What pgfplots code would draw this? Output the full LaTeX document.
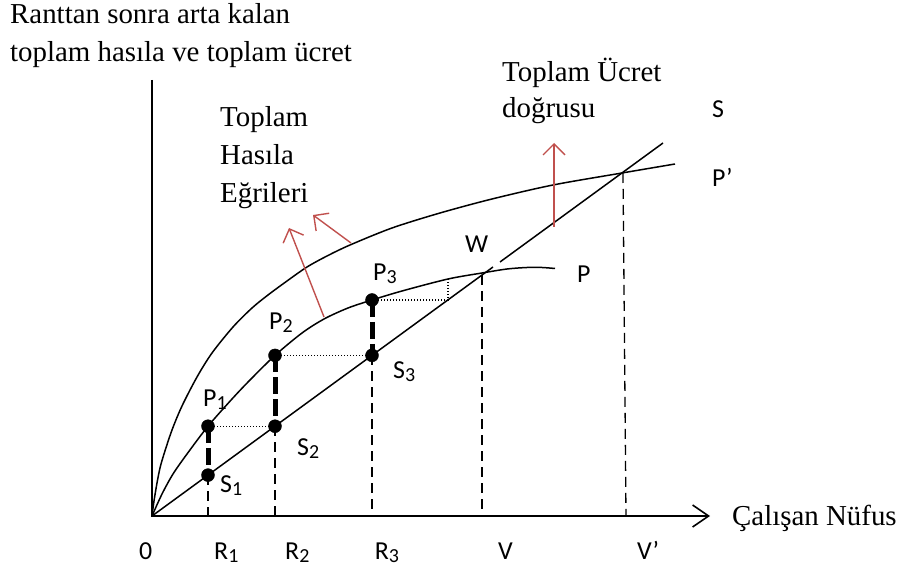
\documentclass[border=0pt]{standalone}
\usepackage{fontspec}
\setmainfont{Liberation Serif}
\newfontfamily\lab{Carlito}
\usepackage{pgfplots}
\pgfplotsset{compat=1.18}
\usetikzlibrary{arrows.meta}
\definecolor{arrowred}{RGB}{192,80,77}

% subscript in the label font
\newcommand{\sub}[1]{\raisebox{-3bp}{\fontsize{20}{20}\selectfont #1}}

\tikzset{
  serif/.style={font=\fontsize{29}{29}\selectfont, inner sep=0pt, anchor=base west},
  sans/.style={font=\lab\fontsize{26}{26}\selectfont, inner sep=0pt, anchor=base west},
  redarr/.style={arrowred, line width=1.4bp, -{Straight Barb[length=11bp,width=22bp]}},
}

\begin{document}
\begin{tikzpicture}
\begin{axis}[
  scale only axis, width=900bp, height=566bp,
  xmin=-152, xmax=748, ymin=-50, ymax=516,
  hide axis, clip=false,
]
% axes
\addplot[line width=1.6bp, -{Straight Barb[length=16bp,width=22bp]}]
  coordinates {(0,436) (0,0) (558,0)};

% total wage line S (gap beside W)
\addplot[line width=1.5bp] coordinates {(0,0) (341,249)};
\addplot[line width=1.5bp] coordinates {(348,254) (511,373)};

% total product curve P
\addplot[line width=1.5bp, smooth] coordinates {
  (0,0) (10,22) (21,42) (35,62) (56,89.8) (80,117) (98,136) (123,160.6)
  (150,183) (172,197) (196,208) (220,216) (250,225) (296,237) (330,243)
  (355,247) (375,248.5) (390,248.5) (403,247.5)};

% total product curve P'
\addplot[line width=1.5bp, smooth] coordinates {
  (0,0) (2,15) (5,33) (8,48) (12,62) (20,86) (30,110) (45,139) (60,163)
  (81,189) (100,208) (116,221) (135,235) (155,249) (175,260) (198,271)
  (240,288) (288,303) (340,317) (401,331) (470,343) (523,352)};

% thin dashed verticals
\addplot[line width=1.3bp, dash pattern=on 10bp off 6bp] coordinates {(56,40.9) (56,0)};
\addplot[line width=1.3bp, dash pattern=on 10bp off 6bp] coordinates {(123,89.8) (123,0)};
\addplot[line width=1.3bp, dash pattern=on 10bp off 6bp] coordinates {(220,160.6) (220,0)};
\addplot[line width=1.3bp, dash pattern=on 10bp off 6bp] coordinates {(330,241) (330,0)};
\addplot[line width=1.3bp, dash pattern=on 10bp off 6bp] coordinates {(471,343) (474,0)};

% thick dashed P-S gaps
\addplot[line width=5bp, dash pattern=on 17bp off 5bp] coordinates {(56,89.8) (56,40.9)};
\addplot[line width=5bp, dash pattern=on 17bp off 5bp] coordinates {(123,160.6) (123,89.8)};
\addplot[line width=5bp, dash pattern=on 17bp off 5bp] coordinates {(220,216) (220,160.6)};

% dotted guides
\addplot[line width=1.3bp, dash pattern=on 1.3bp off 1.7bp] coordinates {(56,89.8) (123,89.8)};
\addplot[line width=1.3bp, dash pattern=on 1.3bp off 1.7bp] coordinates {(123,160.6) (220,160.6)};
\addplot[line width=1.3bp, dash pattern=on 1.3bp off 1.7bp] coordinates {(220,216) (296,216) (296,237)};

% points
\addplot[only marks, mark=*, mark size=6.5bp, black] coordinates {
  (56,89.8) (123,160.6) (220,216) (56,40.9) (123,89.8) (220,160.6)};

% red arrows
\addplot[redarr] coordinates {(172,199) (137,288)};
\addplot[redarr] coordinates {(199,273) (161,301)};
\addplot[redarr] coordinates {(402,289) (402,373)};

% serif texts
\node[serif] at (axis cs:-142,492.7) {Ranttan sonra arta kalan};
\node[serif] at (axis cs:-142,454) {toplam hasıla ve toplam ücret};
\node[serif] at (axis cs:68,389) {Toplam};
\node[serif] at (axis cs:68,351) {Hasıla};
\node[serif] at (axis cs:68,313) {Eğrileri};
\node[serif] at (axis cs:350,434) {Toplam Ücret};
\node[serif] at (axis cs:350,398) {doğrusu};
\node[serif] at (axis cs:580,-9) {Çalışan Nüfus};

% sans labels
\node[sans] at (axis cs:560,398) {S};
\node[sans] at (axis cs:560,329) {P’};
\node[sans] at (axis cs:313,263) {W};
\node[sans] at (axis cs:425,233) {P};
\node[sans] at (axis cs:51,110) {P\sub{1}};
\node[sans] at (axis cs:117,186) {P\sub{2}};
\node[sans] at (axis cs:221,235) {P\sub{3}};
\node[sans] at (axis cs:68,24) {S\sub{1}};
\node[sans] at (axis cs:145,61) {S\sub{2}};
\node[sans] at (axis cs:241,138) {S\sub{3}};
\node[sans] at (axis cs:-13,-43) {0};
\node[sans] at (axis cs:62,-43) {R\sub{1}};
\node[sans] at (axis cs:133,-43) {R\sub{2}};
\node[sans] at (axis cs:222.6,-43) {R\sub{3}};
\node[sans] at (axis cs:346,-43) {V};
\node[sans] at (axis cs:485,-43) {V’};
\end{axis}
\pgfresetboundingbox
\path[use as bounding box] (current axis.south west) rectangle (current axis.north east);
\end{tikzpicture}
\end{document}
